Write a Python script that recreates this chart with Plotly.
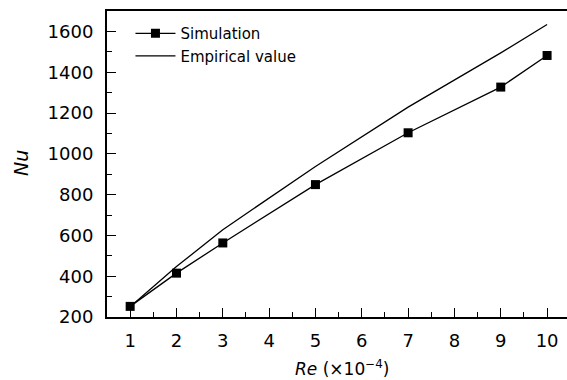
import plotly.graph_objects as go

re_vals = [1, 2, 3, 5, 7, 9, 10]
nu_sim = [252, 415, 563, 849, 1103, 1327, 1482]
nu_emp = [250, 447, 628, 938, 1229, 1495, 1634]
x_ticks = [1, 2, 3, 4, 5, 6, 7, 8, 9, 10]
y_ticks = [200, 400, 600, 800, 1000, 1200, 1400, 1600]

fig = go.Figure()
fig.add_trace(go.Scatter(x=re_vals, y=nu_sim, mode="lines+markers", name="Simulation",
                         line=dict(color="black", width=1.3),
                         marker=dict(symbol="square", size=9, color="black")))
fig.add_trace(go.Scatter(x=re_vals, y=nu_emp, mode="lines", name="Empirical value",
                         line=dict(color="black", width=1.3)))

font = "DejaVu Sans, Liberation Sans, Arial, sans-serif"
fig.update_layout(
    width=567, height=380,
    margin=dict(l=107, r=0, t=11, b=63),
    paper_bgcolor="white", plot_bgcolor="white",
    font=dict(family=font, size=18, color="black"),
    showlegend=True,
    legend=dict(x=0.051, y=0.98, xanchor="left", yanchor="top",
                bgcolor="rgba(0,0,0,0)", font=dict(size=15, color="black"),
                tracegroupgap=0, itemwidth=40),
    xaxis=dict(range=[0.5, 10.43], tickvals=x_ticks, ticks="inside", ticklen=9,
               tickwidth=1, tickcolor="black", showline=True, linecolor="black",
               linewidth=2, mirror=True, showgrid=False, zeroline=False,
               minor=dict(dtick=0.5, tick0=0.5, ticks="inside", ticklen=5, tickcolor="black"),
               ticklabelstandoff=6),
    yaxis=dict(range=[200, 1700], tickvals=y_ticks, ticks="inside", ticklen=9,
               tickwidth=1, tickcolor="black", showline=True, linecolor="black",
               linewidth=2, mirror=False, showgrid=False, zeroline=False,
               minor=dict(dtick=100, tick0=300, ticks="inside", ticklen=5, tickcolor="black"),
               ticklabelstandoff=8),
    annotations=[
        dict(text="<i>Re</i> (×10<sup>−4</sup>)", xref="paper", yref="paper",
             x=0.511, y=-0.166, xanchor="center", yanchor="middle",
             showarrow=False, font=dict(size=17)),
        dict(text="<i>Nu</i>", xref="paper", yref="paper", textangle=-90,
             x=-0.186, y=0.505, xanchor="center", yanchor="middle",
             showarrow=False, font=dict(size=19)),
    ],
)
fig.write_html("out.html")
